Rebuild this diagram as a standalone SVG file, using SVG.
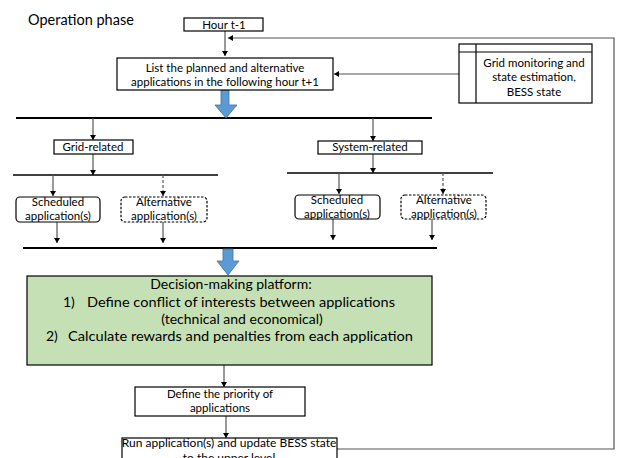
<svg xmlns="http://www.w3.org/2000/svg" width="617" height="458" viewBox="0 0 617 458">
<defs>
<marker id="ah" markerUnits="userSpaceOnUse" markerWidth="6" markerHeight="6" refX="5" refY="3" orient="auto">
<path d="M0,0 L5,3 L0,6 z" fill="#000"/>
</marker>
<style>
.t{font-family:Lato,"Liberation Sans",sans-serif;fill:#000;text-anchor:middle}
.box{fill:#fff;stroke:#000;stroke-width:1.2}
.c{fill:none;stroke:#555;stroke-width:1.2;marker-end:url(#ah)}
.cd{fill:none;stroke:#555;stroke-width:1.2;stroke-dasharray:3,2;marker-end:url(#ah)}
.bar{stroke:#000;stroke-width:2}
.thin{stroke:#000;stroke-width:1.3}
.blue{fill:#5B9BD5;stroke:#41719C;stroke-width:0.8}
</style>
</defs>
<rect width="617" height="458" fill="#fff"/>
<text x="28" y="25" style="font-family:Lato,'Liberation Sans',sans-serif;font-size:14.5px">Operation phase</text>

<g id="connectors">
<path class="c" d="M225,31 V56"/>
<path class="c" d="M337,449 H614 V38 H228"/>
<path class="c" d="M459,74 H334"/>
<line class="bar" x1="16" y1="118" x2="432" y2="118"/>
<path class="c" d="M93,118 V140"/>
<path class="c" d="M93,154 V175"/>
<line class="thin" x1="13" y1="175" x2="218" y2="175"/>
<path class="c" d="M53,175 V196"/>
<path class="cd" d="M163,175 V196"/>
<path class="c" d="M57,222 V243"/>
<path class="c" d="M163,222 V243"/>
<path class="c" d="M373,118 V141"/>
<path class="c" d="M373,154 V173"/>
<line class="thin" x1="287" y1="173" x2="493" y2="173"/>
<path class="c" d="M339,173 V194"/>
<path class="cd" d="M443,173 V194"/>
<path class="c" d="M333,219 V240"/>
<path class="c" d="M432,219 V240"/>
<line class="bar" x1="23" y1="248" x2="437" y2="248"/>
<path class="c" d="M224,365 V387"/>
<path class="c" d="M226,416 V438"/>
<polygon class="blue" points="221,90 229,90 229,105 237,105 226,118 215,105 221,105"/>
<polygon class="blue" points="223,249 233,249 233,261 239,261 228,275 217,261 223,261"/>
</g>

<g id="hour">
<rect class="box" x="184" y="18" width="79" height="13"/>
<text class="t" x="224" y="29" font-size="11.5">Hour t-1</text>
</g>

<g id="list">
<rect class="box" x="117" y="58" width="216" height="32"/>
<text class="t" x="225" y="72" font-size="11.5">List  the planned and alternative</text>
<text class="t" x="225" y="86" font-size="11.5">applications in the following hour t+1</text>
</g>

<g id="monitor">
<rect class="box" x="459" y="44" width="133" height="59"/>
<line x1="476" y1="44" x2="476" y2="103" stroke="#000" stroke-width="1.2"/>
<line x1="459" y1="52" x2="592" y2="52" stroke="#000" stroke-width="1.2"/>
<text class="t" x="534" y="67" font-size="11.5">Grid monitoring and</text>
<text class="t" x="534" y="81" font-size="11.5">state estimation,</text>
<text class="t" x="534" y="96" font-size="11.5">BESS state</text>
</g>

<g id="grid-related">
<rect class="box" x="54" y="140" width="79" height="14"/>
<text class="t" x="93" y="151" font-size="11.5">Grid-related</text>
</g>

<g id="grid-scheduled">
<rect class="box" x="16" y="197" width="84" height="25" rx="4"/>
<text class="t" x="58" y="206" font-size="11.5">Scheduled</text>
<text class="t" x="58" y="220" font-size="11.5">application(s)</text>
</g>

<g id="grid-alternative">
<rect class="box" x="121" y="197" width="86" height="25" rx="4" stroke="#555" stroke-dasharray="2.5,1.5"/>
<text class="t" x="164" y="206" font-size="11.5">Alternative</text>
<text class="t" x="164" y="220" font-size="11.5">application(s)</text>
</g>

<g id="system-related">
<rect class="box" x="318" y="141" width="104" height="13"/>
<text class="t" x="370" y="151" font-size="11.5">System-related</text>
</g>

<g id="sys-scheduled">
<rect class="box" x="295" y="195" width="85" height="24" rx="4"/>
<text class="t" x="337" y="204" font-size="11.5">Scheduled</text>
<text class="t" x="337" y="218" font-size="11.5">application(s)</text>
</g>

<g id="sys-alternative">
<rect class="box" x="401" y="195" width="85" height="24" rx="4" stroke="#555" stroke-dasharray="2.5,1.5"/>
<text class="t" x="444" y="204" font-size="11.5">Alternative</text>
<text class="t" x="444" y="218" font-size="11.5">application(s)</text>
</g>

<g id="decision">
<rect x="27" y="276" width="405" height="89" fill="#C5E0B4" stroke="#000" stroke-width="1.2"/>
<text class="t" x="231" y="289" font-size="14">Decision-making platform:</text>
<text x="63" y="307" style="font-family:Lato,'Liberation Sans',sans-serif;font-size:14px">1)</text>
<text x="87" y="307" style="font-family:Lato,'Liberation Sans',sans-serif;font-size:14px" textLength="308" lengthAdjust="spacingAndGlyphs">Define conflict of interests between applications</text>
<text class="t" x="242" y="324" font-size="14">(technical and economical)</text>
<text x="46" y="341" style="font-family:Lato,'Liberation Sans',sans-serif;font-size:14px">2)</text>
<text x="68" y="341" style="font-family:Lato,'Liberation Sans',sans-serif;font-size:14px" textLength="345" lengthAdjust="spacingAndGlyphs">Calculate rewards and penalties from each application</text>
</g>

<g id="priority">
<rect class="box" x="135" y="387" width="170" height="29"/>
<text class="t" x="220" y="398" font-size="11.5">Define the priority of</text>
<text class="t" x="220" y="412" font-size="11.5">applications</text>
</g>

<g id="run">
<rect class="box" x="122" y="438" width="215" height="30"/>
<text class="t" x="229" y="447" font-size="12">Run application(s) and update BESS state</text>
<text class="t" x="229" y="462" font-size="12">to the upper level</text>
</g>
</svg>
